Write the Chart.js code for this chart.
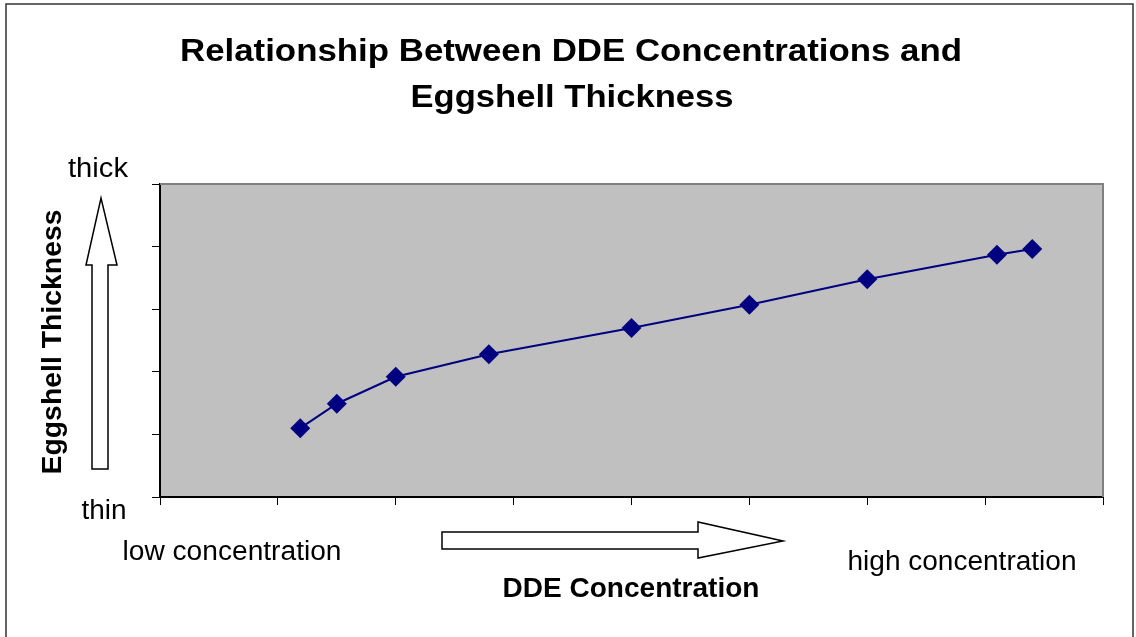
<!DOCTYPE html>
<html>
<head>
<meta charset="utf-8">
<script src="https://cdn.jsdelivr.net/npm/chart.js@4.4.1/dist/chart.umd.min.js"></script>
<style>
  html, body { margin: 0; padding: 0; background: #fff; }
  #wrap { width: 1136px; height: 637px; position: relative; }
</style>
</head>
<body>
<div id="wrap"><canvas id="chart" width="1136" height="637"></canvas></div>
<script>
// values (arbitrary units, axes have no numeric labels)
const concentration = [1.19, 1.50, 2.00, 2.79, 4.00, 5.00, 6.00, 7.10, 7.40];
const thickness = [1.10, 1.49, 1.92, 2.28, 2.70, 3.07, 3.48, 3.87, 3.96];
const xRange = [0, 8];
const yRange = [0, 5];

const titleLines = ["Relationship Between DDE Concentrations and", "Eggshell Thickness"];
const yAxisTitle = "Eggshell Thickness";
const xAxisTitle = "DDE Concentration";
const yEnds = ["thin", "thick"];
const xEnds = ["low concentration", "high concentration"];

const FONT = '"Liberation Sans", Arial, sans-serif';

// the original text is a little wider than the font at its height, so stretch to width
function label(ctx, text, cx, cy, font, width, angle = 0) {
  ctx.save();
  ctx.font = font;
  ctx.translate(cx, cy);
  ctx.rotate(angle);
  const w = ctx.measureText(text).width;
  ctx.scale(width / w, 1);
  ctx.fillText(text, 0, 0);
  ctx.restore();
}

function blockArrow(ctx, pts) {
  ctx.beginPath();
  pts.forEach(([x, y], i) => (i ? ctx.lineTo(x, y) : ctx.moveTo(x, y)));
  ctx.closePath();
  ctx.fillStyle = "#fff";
  ctx.fill();
  ctx.lineWidth = 1.5;
  ctx.strokeStyle = "#000";
  ctx.stroke();
}

const decorations = {
  id: "decorations",
  beforeDraw(chart) {
    const { ctx, chartArea: a } = chart;
    ctx.save();
    ctx.fillStyle = "#fff";
    ctx.fillRect(0, 0, chart.width, chart.height);
    ctx.fillStyle = "#c0c0c0";
    ctx.fillRect(a.left, a.top, a.right - a.left, a.bottom - a.top);
    ctx.restore();
  },
  afterDraw(chart) {
    const { ctx, chartArea: a } = chart;
    ctx.save();

    // grey top/right edge of the plot area
    ctx.strokeStyle = "#808080";
    ctx.lineWidth = 2;
    ctx.beginPath();
    ctx.moveTo(a.left, a.top);
    ctx.lineTo(a.right, a.top);
    ctx.lineTo(a.right, a.bottom);
    ctx.stroke();

    // outer frame
    ctx.strokeStyle = "#333";
    ctx.lineWidth = 1.5;
    ctx.strokeRect(6, 4, 1127, 700);

    ctx.fillStyle = "#000";
    ctx.textAlign = "center";
    ctx.textBaseline = "middle";

    const bold = "bold 32px " + FONT;
    label(ctx, titleLines[0], 571, 52, bold, 782);
    label(ctx, titleLines[1], 572, 98, bold, 323);

    const reg = "27px " + FONT;
    label(ctx, yEnds[1], 98, 170, reg, 60);
    label(ctx, yEnds[0], 104, 512, reg, 45);
    label(ctx, xEnds[0], 232, 553, reg, 219);
    label(ctx, xEnds[1], 962, 563, reg, 229);

    const axisFont = "bold 27px " + FONT;
    label(ctx, xAxisTitle, 631, 590, axisFont, 257);
    label(ctx, yAxisTitle, 54, 342, axisFont, 265, -Math.PI / 2);

    // hollow arrows
    blockArrow(ctx, [[92, 469], [108, 469], [108, 265], [117, 265], [101, 198], [86, 265], [92, 265]]);
    blockArrow(ctx, [[442, 532], [698, 532], [698, 522], [783, 541], [698, 558], [698, 549], [442, 549]]);

    ctx.restore();
  },
};

new Chart(document.getElementById("chart"), {
  type: "scatter",
  data: {
    datasets: [{
      data: concentration.map((x, i) => ({ x, y: thickness[i] })),
      showLine: true,
      borderColor: "#000080",
      borderWidth: 2,
      backgroundColor: "#000080",
      pointStyle: "rectRot",
      pointRadius: 10,
      pointHoverRadius: 10,
      pointBorderWidth: 0,
    }],
  },
  options: {
    responsive: false,
    animation: false,
    events: [],
    layout: { padding: { left: 150, top: 184, right: 33, bottom: 130 } },
    plugins: { legend: { display: false }, tooltip: { enabled: false } },
    scales: {
      x: {
        type: "linear",
        min: xRange[0],
        max: xRange[1],
        ticks: { stepSize: 1, display: false },
        grid: { drawOnChartArea: false, drawTicks: true, tickLength: 8, color: "#000", lineWidth: 1 },
        border: { display: true, color: "#000", width: 2 },
        afterFit: (s) => { s.height = 10; },
      },
      y: {
        type: "linear",
        min: yRange[0],
        max: yRange[1],
        ticks: { stepSize: 1, display: false },
        grid: { drawOnChartArea: false, drawTicks: true, tickLength: 8, color: "#000", lineWidth: 1 },
        border: { display: true, color: "#000", width: 2 },
        afterFit: (s) => { s.width = 10; },
      },
    },
  },
  plugins: [decorations],
});
</script>
</body>
</html>
